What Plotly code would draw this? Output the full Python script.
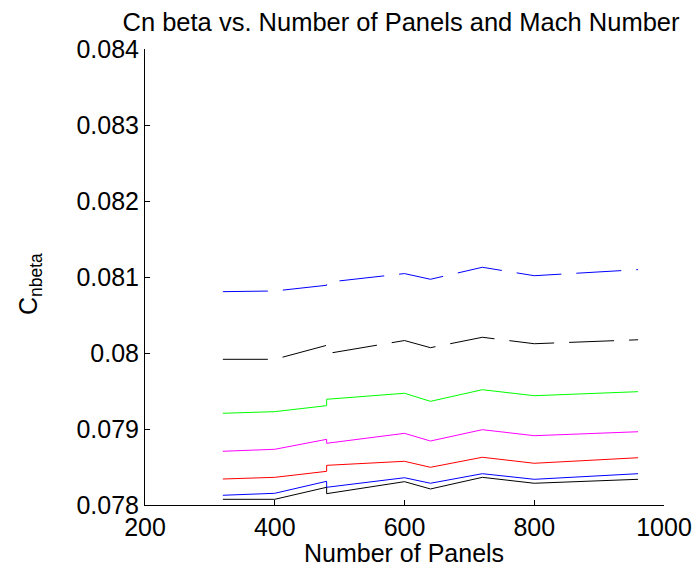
import plotly.graph_objects as go

# Number of panels (duplicate 480 gives the vertical step)
panels = [320, 400, 480, 480, 600, 640, 720, 800, 960]

blue_dashed = [0.080807, 0.080816, 0.080891, 0.080930, 0.081045, 0.080970, 0.081128, 0.081017, 0.081097]
black_dashed = [0.079917, 0.079917, 0.080101, 0.079991, 0.080164, 0.080070, 0.080207, 0.080122, 0.080174]
green_solid = [0.079207, 0.079228, 0.079307, 0.079391, 0.079470, 0.079364, 0.079517, 0.079438, 0.079491]
magenta_solid = [0.078707, 0.078733, 0.078864, 0.078812, 0.078943, 0.078842, 0.078991, 0.078912, 0.078964]
red_solid = [0.078342, 0.078364, 0.078443, 0.078522, 0.078575, 0.078496, 0.078628, 0.078549, 0.078622]
blue_solid = [0.078128, 0.078154, 0.078312, 0.078233, 0.078359, 0.078286, 0.078412, 0.078338, 0.078412]
black_solid = [0.078075, 0.078075, 0.078233, 0.078149, 0.078307, 0.078211, 0.078364, 0.078286, 0.078338]

x_ticks = [200, 400, 600, 800, 1000]
y_ticks = [0.078, 0.079, 0.080, 0.081, 0.082, 0.083, 0.084]
y_tick_labels = ["0.078", "0.079", "0.08", "0.081", "0.082", "0.083", "0.084"]

series = [
    (blue_dashed, "#0000ff", "45px,15px"),
    (black_dashed, "#000000", "45px,15px"),
    (green_solid, "#00ff00", "solid"),
    (magenta_solid, "#ff00ff", "solid"),
    (red_solid, "#ff0000", "solid"),
    (blue_solid, "#0000ff", "solid"),
    (black_solid, "#000000", "solid"),
]

fig = go.Figure()
for vals, col, dash in series:
    fig.add_trace(go.Scatter(x=panels, y=vals, mode="lines",
                             line=dict(color=col, width=1, dash=dash),
                             showlegend=False))

font = "Liberation Sans, Arial, Helvetica, sans-serif"
L, R, T, B = 145, 34, 49, 69
W, H = 698, 574
pw, ph = W - L - R, H - T - B

fig.update_layout(
    width=W, height=H,
    margin=dict(l=L, r=R, t=T, b=B),
    paper_bgcolor="white", plot_bgcolor="white",
    font=dict(family=font, size=25, color="black"),
    title=dict(text="Cn beta vs. Number of Panels and Mach Number",
               x=401 / W, xref="container", xanchor="center",
               y=1 - 22 / H, yref="container", yanchor="middle",
               font=dict(size=25.5, family=font, color="black")),
)
fig.update_xaxes(range=[200, 1000], tickvals=x_ticks, automargin=False,
                 ticks="inside", ticklen=5, tickcolor="black",
                 tickfont=dict(size=25, family=font, color="black"),
                 showline=True, linecolor="black", linewidth=1,
                 showgrid=False, zeroline=False, mirror=False)
fig.update_yaxes(range=[0.078, 0.084], tickvals=y_ticks, ticktext=y_tick_labels,
                 automargin=False,
                 ticks="inside", ticklen=5, tickcolor="black",
                 tickfont=dict(size=25, family=font, color="black"),
                 showline=True, linecolor="black", linewidth=1,
                 showgrid=False, zeroline=False, mirror=False)

# axis titles placed as annotations for exact positioning
fig.add_annotation(text="Number of Panels", xref="paper", yref="paper",
                   x=(404 - L) / pw, y=-(553 - (T + ph)) / ph,
                   xanchor="center", yanchor="middle", showarrow=False,
                   font=dict(size=25, family=font, color="black"))
fig.add_annotation(text="C<sub>nbeta</sub>", xref="paper", yref="paper",
                   x=-(L - 30) / pw, y=((T + ph) - 284) / ph,
                   xanchor="center", yanchor="middle", textangle=-90,
                   showarrow=False,
                   font=dict(size=25, family=font, color="black"))

fig.write_html("out.html")
